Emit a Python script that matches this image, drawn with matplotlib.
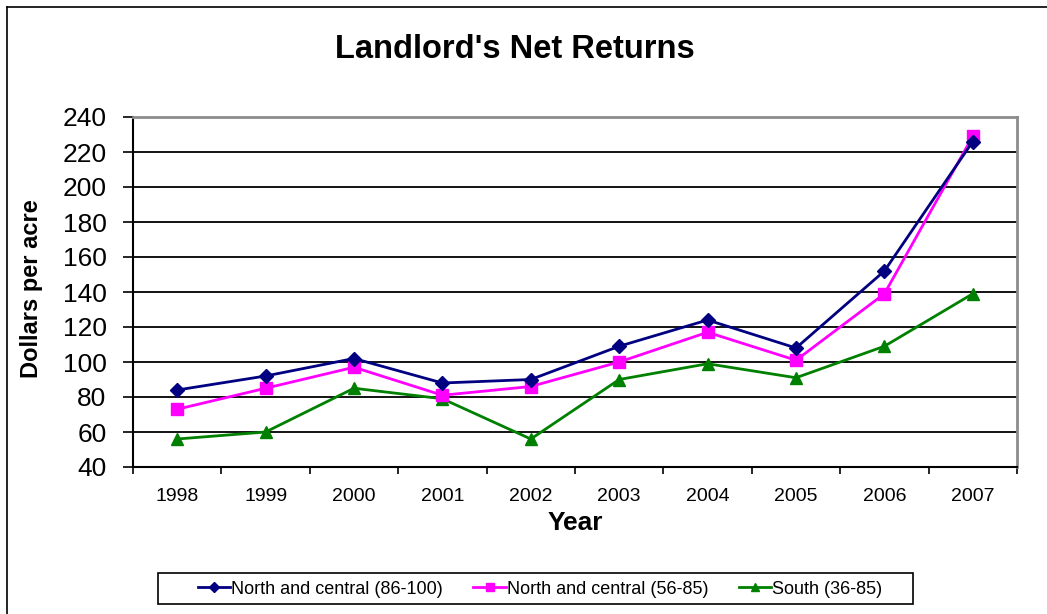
import matplotlib
matplotlib.use("Agg")
import matplotlib.pyplot as plt
from matplotlib.lines import Line2D
from matplotlib.patches import Rectangle

plt.rcParams['font.family'] = ['Liberation Sans', 'DejaVu Sans']

years = ["1998", "1999", "2000", "2001", "2002", "2003", "2004", "2005", "2006", "2007"]
north_86_100 = [84, 92, 102, 88, 90, 109, 124, 108, 152, 226]
north_56_85 = [73, 85, 97, 81, 86, 100, 117, 101, 139, 229]
south_36_85 = [56, 60, 85, 79, 56, 90, 99, 91, 109, 139]
yticks = list(range(40, 241, 20))

W, H = 1047, 614
fig = plt.figure(figsize=(W / 100, H / 100), dpi=100)
ax = fig.add_axes([133 / W, 1 - 467 / H, (1017 - 133) / W, (467 - 117) / H])

x = list(range(len(years)))
ax.plot(x, north_86_100, color='#000080', lw=2, marker='D', ms=7, label='North and central (86-100)', zorder=5)
ax.plot(x, north_56_85, color='#FF00FF', lw=2, marker='s', ms=8, label='North and central (56-85)', zorder=4)
ax.plot(x, south_36_85, color='#008000', lw=2, marker='^', ms=8.5, label='South (36-85)', zorder=3)

ax.set_xlim(-0.5, len(years) - 0.5)
ax.set_ylim(40, 240)
ax.set_yticks(yticks)
ax.set_yticklabels([str(v) for v in yticks], fontsize=19)
ax.set_xticks(x)
ax.set_xticklabels(years, fontsize=14)
ax.tick_params(axis='x', which='major', length=0, pad=15)
ax.set_xticks([i - 0.5 for i in range(len(years) + 1)], minor=True)
ax.tick_params(axis='x', which='minor', length=5, width=1.2, direction='out', color='black')
ax.tick_params(axis='y', length=7, width=1.2, direction='out', color='black', pad=12)

ax.grid(axis='y', color='black', lw=1.3)
ax.set_axisbelow(True)
for s in ['left', 'bottom']:
    ax.spines[s].set_color('black')
    ax.spines[s].set_linewidth(1.5)
for s in ['top', 'right']:
    ax.spines[s].set_color('#8c8c8c')
    ax.spines[s].set_linewidth(2)

fig.text(515 / W, 1 - 50 / H, "Landlord's Net Returns", ha='center', va='center', fontsize=23.5, fontweight='bold')
fig.text(575 / W, 1 - 523 / H, "Year", ha='center', va='center', fontsize=19, fontweight='bold')
fig.text(32 / W, 1 - 289 / H, "Dollars per acre", ha='center', va='center', rotation=90, fontsize=17, fontweight='bold')

leg = fig.legend(loc='center', bbox_to_anchor=(540 / W, 1 - 589 / H), ncol=3, fontsize=13,
                 frameon=False, handlelength=1.8,
                 handletextpad=0.05, columnspacing=1.7, borderpad=0.0, markerscale=0.7)
fig.add_artist(Rectangle((158 / W, 1 - 604 / H), (913 - 158) / W, (604 - 573) / H,
                         transform=fig.transFigure, fill=False, edgecolor='black', lw=1.2))

# figure border (left and top)
fig.add_artist(Line2D([7 / W, 7 / W], [0, 1 - 7 / H], transform=fig.transFigure, color='black', lw=1.2))
fig.add_artist(Line2D([7 / W, 1], [1 - 7 / H, 1 - 7 / H], transform=fig.transFigure, color='black', lw=1.2))

fig.savefig("out.png", dpi=100)
